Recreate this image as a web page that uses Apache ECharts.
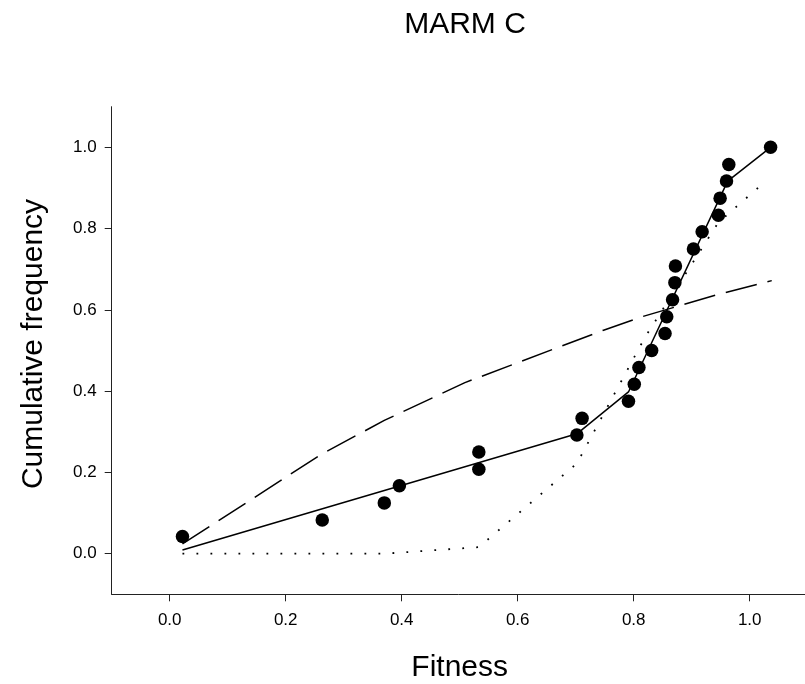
<!DOCTYPE html>
<html>
<head>
<meta charset="utf-8">
<script src="https://cdn.jsdelivr.net/npm/echarts@6/dist/echarts.min.js"></script>
<style>
html,body{margin:0;padding:0;background:#fff;}
#c{width:805px;height:684px;}
</style>
</head>
<body>
<div id="c"></div>
<script>
// Observed data (fitness vs cumulative frequency)
const fitness = [0.022,0.263,0.370,0.396,0.533,0.533,0.702,0.711,0.791,0.801,0.809,0.831,0.854,0.857,0.867,0.871,0.872,0.903,0.918,0.946,0.949,0.960,0.964,1.036];
const cumFreq = [0.042,0.083,0.125,0.167,0.208,0.250,0.292,0.333,0.375,0.417,0.458,0.500,0.542,0.583,0.625,0.667,0.708,0.750,0.792,0.833,0.875,0.917,0.958,1.000];

// Solid fitted line
const solidX = [0.022,0.702,0.791,0.962,1.036];
const solidY = [0.009,0.295,0.398,0.917,1.000];

// Dashed model curve
const dashX = [0.022,0.262,0.370,0.509,0.748,0.814,0.943,1.038];
const dashY = [0.024,0.245,0.328,0.421,0.550,0.583,0.637,0.672];

// Dotted model curve
const dotX = [0.022,0.370,0.533,0.702,0.820,0.946,1.030];
const dotY = [0.000,0.000,0.016,0.222,0.534,0.815,0.920];

// Tick labels
const xTicks = [0.0,0.2,0.4,0.6,0.8,1.0];
const yTicks = [0.0,0.2,0.4,0.6,0.8,1.0];

const titleText = 'MARM C';
const xName = 'Fitness';
const yName = 'Cumulative frequency';

const zip = (a,b) => a.map((v,i)=>[v,b[i]]);
const FONT = 'Liberation Sans, Arial, sans-serif';
const axisCol = '#222';

const chart = echarts.init(document.getElementById('c'), null, {renderer:'canvas'});
chart.setOption({
  backgroundColor:'#fff',
  animation:false,
  title:{
    text:titleText,
    left:460, top:5, textAlign:'center',
    textStyle:{fontFamily:FONT, fontSize:30, fontWeight:'normal', color:'#000'}
  },
  grid:{left:111.7, top:106.7, width:696, height:487.6, containLabel:false, outerBoundsMode:'none'},
  xAxis:{
    type:'value', min:-0.1, max:1.1,
    name:xName, nameLocation:'middle', nameGap:58,
    nameTextStyle:{fontFamily:FONT, fontSize:30, color:'#000'},
    axisLine:{show:true, onZero:false, lineStyle:{color:axisCol, width:1}},
    axisTick:{show:true, length:7, inside:false, customValues:xTicks, lineStyle:{color:axisCol}},
    axisLabel:{show:true, customValues:xTicks, margin:18, fontFamily:FONT, fontSize:17, color:'#000',
      formatter:v=>Number(v).toFixed(1)},
    splitLine:{show:false}
  },
  yAxis:{
    type:'value', min:-0.1, max:1.1,
    axisLine:{show:true, onZero:false, lineStyle:{color:axisCol, width:1}},
    axisTick:{show:true, length:7, inside:false, customValues:yTicks, lineStyle:{color:axisCol}},
    axisLabel:{show:true, customValues:yTicks, margin:15, fontFamily:FONT, fontSize:17, color:'#000',
      formatter:v=>Number(v).toFixed(1)},
    splitLine:{show:false}
  },
  graphic:[{
    type:'text', x:33.4, y:344, rotation:Math.PI/2,
    style:{text:yName, font:'30px '+FONT, fill:'#000', textAlign:'center', textVerticalAlign:'middle'}
  }],
  series:[
    {type:'line', data:zip(dotX,dotY), showSymbol:false, symbol:'none', z:2,
      lineStyle:{color:'#000', width:1.8, type:[1.8,12.2]}},
    {type:'line', data:zip(dashX,dashY), showSymbol:false, symbol:'none', z:2,
      lineStyle:{color:'#000', width:1.5, type:[32,11]}},
    {type:'line', data:zip(solidX,solidY), showSymbol:false, symbol:'none', z:3,
      lineStyle:{color:'#000', width:1.5}},
    {type:'scatter', data:zip(fitness,cumFreq), symbol:'circle', symbolSize:13.5, z:5,
      itemStyle:{color:'#000', opacity:1}}
  ]
});
</script>
</body>
</html>
